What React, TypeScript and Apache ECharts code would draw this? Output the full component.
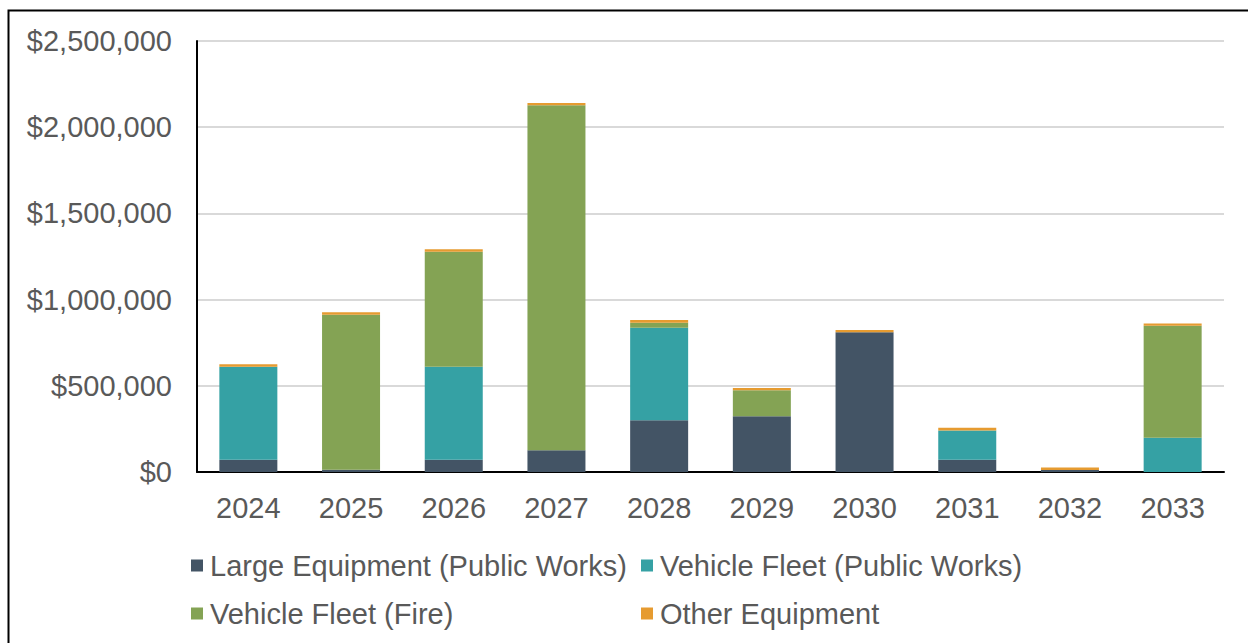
import React, { useEffect, useRef } from "react";
import * as echarts from "echarts";

const years = ["2024", "2025", "2026", "2027", "2028", "2029", "2030", "2031", "2032", "2033"];
const largeEquipment = [71000, 13000, 71000, 126000, 300000, 323000, 810000, 71000, 12000, 0];
const vehicleFleetPW = [540000, 0, 540000, 0, 537000, 0, 0, 169000, 0, 199000];
const vehicleFleetFire = [0, 899000, 667000, 2001000, 29000, 151000, 0, 0, 0, 650000];
const otherEquipment = [14000, 14000, 14000, 13000, 16000, 13000, 14000, 17000, 14000, 13000];
const seriesNames = [
  "Large Equipment (Public Works)",
  "Vehicle Fleet (Public Works)",
  "Vehicle Fleet (Fire)",
  "Other Equipment",
];
const colors = ["#435465", "#35A1A4", "#84A354", "#E69B30"];

const FONT = "'Liberation Sans', Arial, sans-serif";
const TXT = "#595959";

export default function App() {
  const ref = useRef<HTMLDivElement>(null);
  useEffect(() => {
    if (!ref.current) return;
    const chart = echarts.init(ref.current, null, { renderer: "svg" });
    const dataSets = [largeEquipment, vehicleFleetPW, vehicleFleetFire, otherEquipment];
    const legendPos = [
      { left: 186, top: 546 },
      { left: 636, top: 546 },
      { left: 186, top: 594 },
      { left: 636, top: 594 },
    ];
    chart.setOption({
      animation: false,
      backgroundColor: "#ffffff",
      textStyle: { fontFamily: FONT },
      graphic: [
        {
          type: "rect",
          shape: { x: 8.5, y: 10.5, width: 1400, height: 800 },
          style: { fill: "none", stroke: "#000", lineWidth: 2 },
          silent: true,
        },
      ],
      grid: { left: 197, right: 24, top: 41, bottom: 171, containLabel: false },
      legend: seriesNames.map((n, i) => ({
        data: [n],
        left: legendPos[i].left,
        top: legendPos[i].top,
        icon: "rect",
        itemWidth: 12,
        itemHeight: 12,
        selectedMode: false,
        textStyle: { fontSize: 29, color: TXT, fontFamily: FONT, padding: [0, 0, 0, 2] },
      })),
      xAxis: {
        type: "category",
        data: years,
        axisTick: { show: false },
        axisLine: { lineStyle: { color: "#000", width: 2 } },
        axisLabel: { fontSize: 29, color: TXT, margin: 21, fontFamily: FONT },
      },
      yAxis: {
        type: "value",
        min: 0,
        max: 2500000,
        interval: 500000,
        axisLine: { show: true, lineStyle: { color: "#000", width: 2 } },
        axisTick: { show: false },
        splitLine: { lineStyle: { color: "#D9D9D9", width: 2 } },
        axisLabel: {
          fontSize: 29,
          color: TXT,
          margin: 25,
          fontFamily: FONT,
          formatter: (v: number) => "$" + v.toLocaleString("en-US"),
        },
      },
      series: seriesNames.map((n, i) => ({
        name: n,
        type: "bar",
        stack: "total",
        barWidth: 58,
        data: dataSets[i],
        itemStyle: { color: colors[i] },
      })),
    });
    return () => chart.dispose();
  }, []);
  return (
    <div
      ref={ref}
      style={{ position: "fixed", left: 0, top: 0, width: 1248, height: 643 }}
    />
  );
}
